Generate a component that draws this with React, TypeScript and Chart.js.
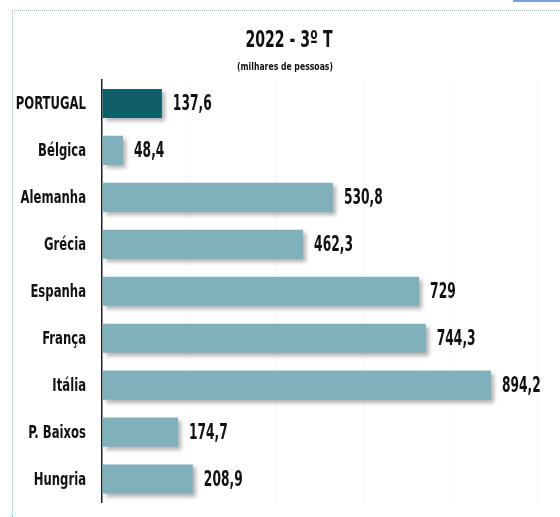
import React, { useEffect, useRef } from "react";
import { Chart, registerables } from "chart.js";

Chart.register(...registerables);

const TITLE = "2022 - 3º T";
const SUBTITLE = "(milhares de pessoas)";
const categories = ["PORTUGAL", "Bélgica", "Alemanha", "Grécia", "Espanha", "França", "Itália", "P. Baixos", "Hungria"];
const values = [137.6, 48.4, 530.8, 462.3, 729, 744.3, 894.2, 174.7, 208.9];
const highlighted = "PORTUGAL";
const xMax = 1000;
const xStep = 200;

const FONT = '"DejaVu Sans Condensed", "DejaVu Sans", sans-serif';
const DARK = "#0f5f6b";
const LIGHT = "#80b1bb";

const fmt = (v: number) => String(v).replace(".", ",");

function drawScaled(ctx: CanvasRenderingContext2D, text: string, x: number, y: number, sx: number) {
  ctx.save();
  ctx.translate(x, y);
  ctx.scale(sx, 1);
  ctx.fillText(text, 0, 0);
  ctx.restore();
}

export default function App() {
  const ref = useRef<HTMLCanvasElement | null>(null);

  useEffect(() => {
    const canvas = ref.current;
    if (!canvas) return;

    const shadowPlugin = {
      id: "barShadow",
      beforeDatasetsDraw(chart: any) {
        const ctx = chart.ctx;
        ctx.save();
        ctx.shadowColor = "rgba(0,0,0,0.3)";
        ctx.shadowBlur = 4;
        ctx.shadowOffsetX = 3;
        ctx.shadowOffsetY = 3;
      },
      afterDatasetsDraw(chart: any) {
        const ctx = chart.ctx;
        ctx.restore();
        const meta = chart.getDatasetMeta(0);
        ctx.save();
        ctx.fillStyle = "#111";
        ctx.font = `bold 22px ${FONT}`;
        ctx.textBaseline = "middle";
        ctx.textAlign = "left";
        meta.data.forEach((bar: any, i: number) => {
          drawScaled(ctx, fmt(values[i]), bar.x + 11, bar.y + 1, 0.62);
        });
        ctx.restore();
      },
    };

    const labelPlugin = {
      id: "catLabels",
      afterDraw(chart: any) {
        const ctx = chart.ctx;
        const y = chart.scales.y;
        ctx.save();
        ctx.fillStyle = "#111";
        ctx.font = `bold 18px ${FONT}`;
        ctx.textAlign = "right";
        ctx.textBaseline = "middle";
        categories.forEach((c, i) => {
          drawScaled(ctx, c, y.right - 16, y.getPixelForTick(i) + 1, 0.72);
        });
        ctx.restore();
      },
    };

    const titlePlugin = {
      id: "titles",
      afterDraw(chart: any) {
        const ctx = chart.ctx;
        ctx.save();
        ctx.fillStyle = "#111";
        ctx.textAlign = "center";
        ctx.textBaseline = "alphabetic";
        ctx.font = `bold 23px ${FONT}`;
        drawScaled(ctx, TITLE, 289, 47, 0.68);
        ctx.font = `bold 11px ${FONT}`;
        drawScaled(ctx, SUBTITLE, 285, 70, 0.78);
        ctx.restore();
      },
    };

    const chart = new Chart(canvas, {
      type: "bar",
      data: {
        labels: categories,
        datasets: [
          {
            data: values,
            backgroundColor: categories.map((c) => (c === highlighted ? DARK : LIGHT)),
            borderWidth: 0,
            categoryPercentage: 1,
            barPercentage: 0.62,
          },
        ],
      },
      options: {
        indexAxis: "y",
        animation: false,
        responsive: false,
        maintainAspectRatio: false,
        layout: { padding: { left: 0, right: 23, top: 80, bottom: 14.5 } },
        plugins: {
          legend: { display: false },
          title: { display: false },
          tooltip: { enabled: false },
        },
        scales: {
          x: {
            min: 0,
            max: xMax,
            ticks: { display: false, stepSize: xStep },
            grid: { color: "rgba(0,0,0,0.06)", drawTicks: false, lineWidth: 1 },
            border: { display: false, dash: [2, 2] },
            afterFit: (s: any) => {
              s.height = 0;
            },
          },
          y: {
            ticks: { display: false },
            grid: { display: false, drawTicks: false },
            border: { display: true, color: "#222", width: 1.5 },
            afterFit: (s: any) => {
              s.width = 102;
            },
          },
        },
      },
      plugins: [shadowPlugin, labelPlugin, titlePlugin],
    });

    return () => chart.destroy();
  }, []);

  return (
    <div style={{ position: "absolute", left: 0, top: 0, width: 560, height: 517, overflow: "hidden", background: "#fff" }}>
      <div
        style={{
          position: "absolute",
          left: 12,
          top: 10,
          width: 600,
          height: 600,
          borderLeft: "1px dotted #8fbfc8",
          borderTop: "1px dotted #8fbfc8",
        }}
      />
      <div style={{ position: "absolute", left: 513, top: 0, width: 47, height: 2, background: "#7ea3d3" }} />
      <canvas ref={ref} width={560} height={517} style={{ position: "absolute", left: 0, top: 0, width: 560, height: 517 }} />
    </div>
  );
}
